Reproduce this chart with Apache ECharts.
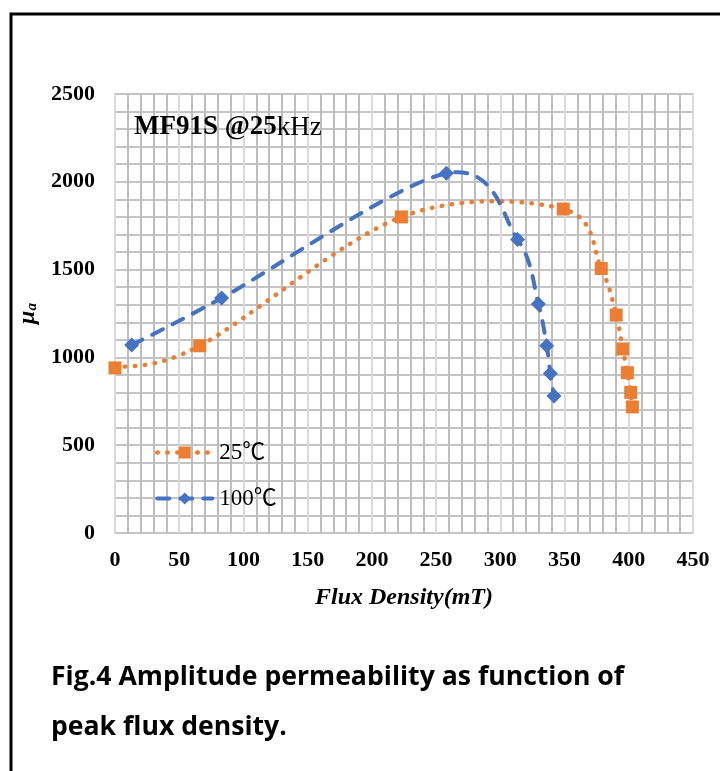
<!DOCTYPE html>
<html>
<head>
<meta charset="utf-8">
<script src="https://cdn.jsdelivr.net/npm/echarts@6/dist/echarts.min.js"></script>
<style>
html,body{margin:0;padding:0;background:#fff;}
#c{width:720px;height:771px;}
</style>
</head>
<body>
<div id="c"></div>
<script>
// Data
const flux25 = [0, 66, 223, 349, 378.6, 390.2, 395.3, 398.9, 401.5, 402.8];
const mu25 = [940, 1066, 1800, 1845, 1506, 1241, 1048, 913, 801, 718];
const flux100 = [13, 83, 258, 313.4, 329.6, 336.1, 338.9, 341.8];
const mu100 = [1070, 1338, 2048, 1672, 1304, 1067, 909, 780];
const seriesNames = ['25℃', '100℃'];
const xTicks = [0, 50, 100, 150, 200, 250, 300, 350, 400, 450];
const yTicks = [0, 500, 1000, 1500, 2000, 2500];

const pairs = (xs, ys) => xs.map((x, i) => [x, ys[i]]);
const serif = '"Liberation Serif", "Times New Roman", "Noto Sans CJK SC", serif';

const COL25 = '#ed7d31', COL100 = '#4472c4';
const style25 = { color: COL25, width: 4.5, type: [0.5, 9.5], cap: 'round' };
const style100 = { color: COL100, width: 4, type: [12, 11], cap: 'round' };

// Excel-like smoothed line (Catmull-Rom in pixel space) drawn through the chart's own scales
function smoothRender(ls) {
  return function (params, api) {
    if (params.dataIndex !== 0) return null;
    const n = params.dataInsideLength;
    const pts = [];
    for (let i = 0; i < n; i++) pts.push(api.coord([api.value(0, i), api.value(1, i)]));
    let d = 'M' + pts[0][0] + ',' + pts[0][1];
    for (let i = 0; i < n - 1; i++) {
      const p0 = pts[Math.max(i - 1, 0)], p1 = pts[i], p2 = pts[i + 1], p3 = pts[Math.min(i + 2, n - 1)];
      const c1x = p1[0] + (p2[0] - p0[0]) / 6, c1y = p1[1] + (p2[1] - p0[1]) / 6;
      const c2x = p2[0] - (p3[0] - p1[0]) / 6, c2y = p2[1] - (p3[1] - p1[1]) / 6;
      d += ' C' + c1x + ',' + c1y + ' ' + c2x + ',' + c2y + ' ' + p2[0] + ',' + p2[1];
    }
    return {
      type: 'path',
      shape: { pathData: d },
      style: { fill: null, stroke: ls.color, lineWidth: ls.width, lineDash: ls.type, lineCap: ls.cap }
    };
  };
}

const chart = echarts.init(document.getElementById('c'));
chart.setOption({
  backgroundColor: '#fff',
  animation: false,
  title: [
    {
      text: '{b|MF91S @25}{n|kHz}',
      left: 129, top: 109,
      textStyle: { rich: {
        b: { fontFamily: serif, fontWeight: 'bold', fontSize: 27, color: '#000' },
        n: { fontFamily: serif, fontWeight: 'normal', fontSize: 27, color: '#000' }
      }}
    },
    {
      text: 'Fig.4 Amplitude permeability as function of\npeak flux density.',
      left: 46, top: 647,
      textStyle: { fontFamily: '"Open Sans"', fontWeight: 'bold', fontSize: 26.6, lineHeight: 50, color: '#000' }
    }
  ],
  graphic: [
    { type: 'rect', shape: { x: 11, y: 14, width: 900, height: 900 },
      style: { fill: 'none', stroke: '#000', lineWidth: 3 }, silent: true }
  ],
  legend: {
    data: [
      { name: seriesNames[0], lineStyle: Object.assign({ opacity: 1 }, style25) },
      { name: seriesNames[1], lineStyle: Object.assign({ opacity: 1 }, style100) }
    ],
    orient: 'vertical',
    left: 150, top: 436,
    itemWidth: 55, itemHeight: 15, itemGap: 23,
    textStyle: { fontFamily: serif, fontSize: 23, color: '#000', padding: [0,0,0,2] }
  },
  grid: {
    left: 115, top: 94, right: 27, bottom: 238,
    show: true, borderColor: '#d0d0d0', borderWidth: 1.5, backgroundColor: '#fff'
  },
  xAxis: {
    type: 'value', min: xTicks[0], max: xTicks[xTicks.length - 1], interval: 50,
    name: 'Flux Density(mT)', nameLocation: 'middle', nameGap: 53,
    nameTextStyle: { fontFamily: serif, fontWeight: 'bold', fontStyle: 'italic', fontSize: 24, color: '#000' },
    axisLine: { show: false }, axisTick: { show: false },
    axisLabel: { margin: 16, fontFamily: serif, fontWeight: 'bold', fontSize: 22, color: '#000' },
    splitLine: { show: true, lineStyle: { color: '#dadada', width: 2 } },
    minorTick: { show: false, splitNumber: 5 },
    minorSplitLine: { show: true, lineStyle: { color: '#bdbdbd', width: 2 } }
  },
  yAxis: {
    type: 'value', min: yTicks[0], max: yTicks[yTicks.length - 1], interval: 500,
    name: '{m|μ}{s|a}', nameLocation: 'middle', nameGap: 74, nameRotate: 90,
    nameTextStyle: { rich: {
      m: { fontFamily: serif, fontStyle: 'italic', fontWeight: 'bold', fontSize: 24, color: '#000' },
      s: { fontFamily: serif, fontStyle: 'italic', fontWeight: 'bold', fontSize: 15, color: '#000', verticalAlign: 'bottom', padding: [10,0,0,0] }
    }},
    axisLine: { show: false }, axisTick: { show: false },
    axisLabel: { margin: 20, fontFamily: serif, fontWeight: 'bold', fontSize: 22, color: '#000',
                 formatter: v => String(v) },
    splitLine: { show: true, lineStyle: { color: '#c4c4c4', width: 2 } },
    minorTick: { show: false, splitNumber: 5 },
    minorSplitLine: { show: true, lineStyle: { color: '#c4c4c4', width: 2 } }
  },
  series: [
    {
      name: 'curve25', type: 'custom', renderItem: smoothRender(style25),
      data: pairs(flux25, mu25), encode: { x: 0, y: 1 }, z: 2, silent: true
    },
    {
      name: 'curve100', type: 'custom', renderItem: smoothRender(style100),
      data: pairs(flux100, mu100), encode: { x: 0, y: 1 }, z: 2, silent: true
    },
    {
      name: seriesNames[0], type: 'line',
      data: pairs(flux25, mu25),
      symbol: 'rect', symbolSize: 13,
      itemStyle: { color: COL25 },
      lineStyle: { color: COL25, opacity: 0, width: 0 },
      z: 3
    },
    {
      name: seriesNames[1], type: 'line',
      data: pairs(flux100, mu100),
      symbol: 'diamond', symbolSize: 15,
      itemStyle: { color: COL100 },
      lineStyle: { color: COL100, opacity: 0, width: 0 },
      z: 4
    }
  ]
});
</script>
</body>
</html>
